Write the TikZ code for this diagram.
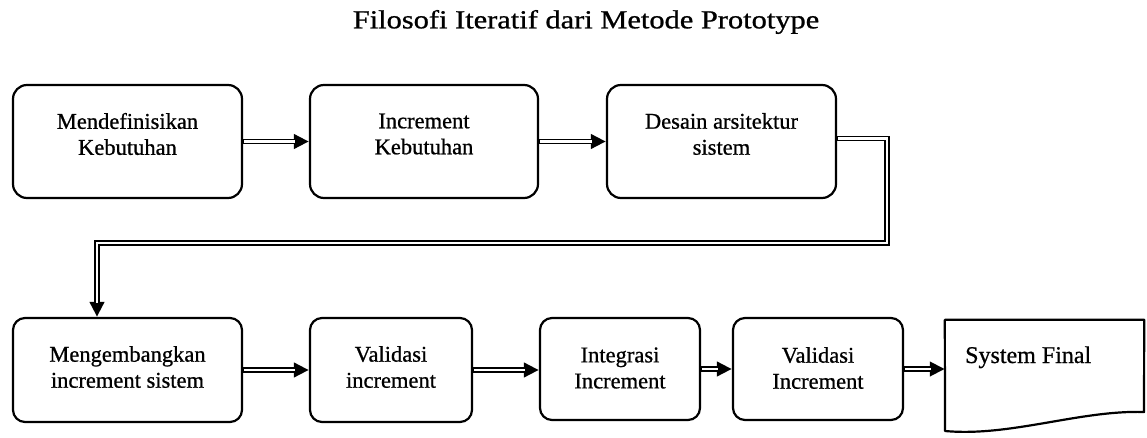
\documentclass[tikz,border=0pt]{standalone}
\usepackage{fontspec}
\setmainfont{Liberation Serif}
\newfontfamily\scanfont{Liberation Serif}[FakeBold=0.8]
\usetikzlibrary{arrows.meta,calc}
\newcommand\dblarrow[1]{\draw[dblouter] #1; \draw[dblinner] #1;}
\begin{document}
\begin{tikzpicture}[x=1pt,y=-1pt,
  stepbox/.style={draw=black, line width=2.2pt, rounded corners=14pt, inner sep=0pt},
  lbl/.style={align=center, inner sep=0pt, font=\scanfont\fontsize{22.5}{26}\selectfont},
  dblouter/.style={draw=black, line width=5.4pt, -{Triangle[length=15pt,width=14pt]}},
  dblinner/.style={draw=white, line width=2.4pt, shorten <=1.2pt, shorten >=14pt},
]
\useasboundingbox (0,0) rectangle (1147,438);
\fill[white] (0,0) rectangle (1147,438);

% title
\node[inner sep=0pt] (title) at (586,22)
  {\scalebox{1.17}[1]{\scanfont\fontsize{26}{30}\selectfont Filosofi Iteratif dari Metode Prototype}};

% top row
\node[stepbox, minimum width=229pt, minimum height=113pt] (b1) at (127.5,141.5) {};
\node[stepbox, minimum width=228pt, minimum height=113pt] (b2) at (424,141.5) {};
\node[stepbox, minimum width=229pt, minimum height=113pt] (b3) at (721.5,141.5) {};
\node[lbl] (t1) at (127.5,134) {Mendefinisikan\\Kebutuhan};
\node[lbl] (t2) at (424,134) {Increment\\Kebutuhan};
\node[lbl] (t3) at (721.5,134) {Desain arsitektur\\sistem};

% bottom row
\node[stepbox, rounded corners=12pt, minimum width=229pt, minimum height=104pt] (b4) at (127.5,370) {};
\node[stepbox, rounded corners=12pt, minimum width=162pt, minimum height=104pt] (b5) at (391,370) {};
\node[stepbox, rounded corners=12pt, minimum width=160pt, minimum height=102pt] (b6) at (620,369) {};
\node[stepbox, rounded corners=12pt, minimum width=170pt, minimum height=102pt] (b7) at (818,369) {};
\node[lbl] (t4) at (127.5,367) {Mengembangkan\\increment sistem};
\node[lbl] (t5) at (391,367) {Validasi\\increment};
\node[lbl] (t6) at (620,368) {Integrasi\\Increment};
\node[lbl] (t7) at (818,368) {Validasi\\Increment};

% document shape
\node[inner sep=0pt, minimum width=199pt, minimum height=112pt] (doc) at (1044.5,376) {};
\draw[line width=2.2pt, line join=round]
  (doc.north west) -- (doc.north east) -- (1144,412)
  .. controls (1080,410) and (1010,437) .. (945,431) -- cycle;
\node[anchor=base west, inner sep=0pt, font=\scanfont\fontsize{24}{28}\selectfont] (tdoc) at (965,363) {System Final};

% connectors
\coordinate (c1) at (887,243);
\coordinate (c2) at (97,243);
\dblarrow{(b1.east) -- (b2.west)}
\dblarrow{(b2.east) -- (b3.west)}
\dblarrow{([yshift=3pt]b3.east) -| (c1) -- (c2) -- (c2 |- b4.north)}
\dblarrow{(b4.east) -- (b4.east -| b5.west)}
\dblarrow{(b5.east) -- (b5.east -| b6.west)}
\dblarrow{(b6.east) -- (b6.east -| b7.west)}
\dblarrow{(b7.east) -- (b7.east -| doc.west)}
\end{tikzpicture}
\end{document}
